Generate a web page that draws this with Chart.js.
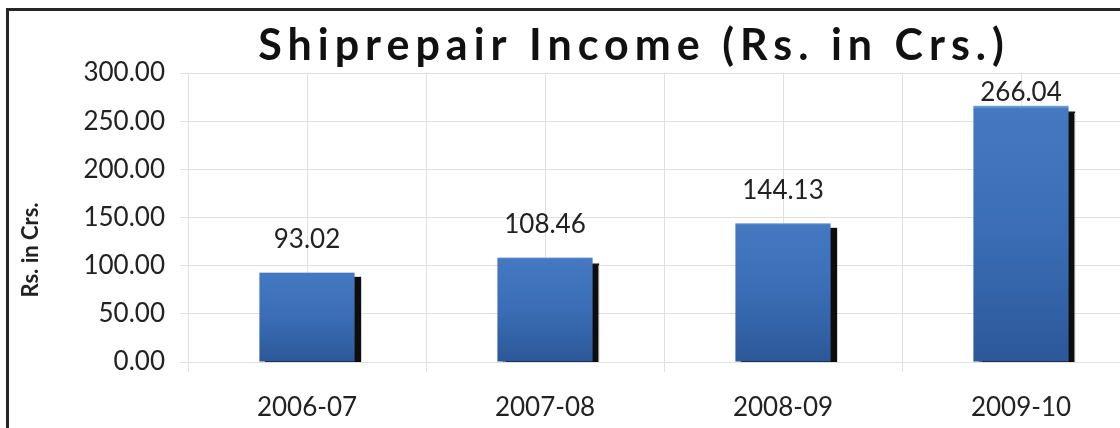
<!DOCTYPE html>
<html>
<head>
<meta charset="utf-8">
<script src="https://cdn.jsdelivr.net/npm/chart.js@4.4.0/dist/chart.umd.min.js"></script>
<style>
  html, body { margin: 0; padding: 0; background: #ffffff; overflow: hidden; width: 1120px; height: 428px; }
  #frame { position: absolute; left: 6px; top: 8px; width: 1200px; height: 480px; border: 3px solid #262626; box-sizing: border-box; }
  #c { position: absolute; left: 0; top: 0; }
</style>
</head>
<body>
<div id="frame"></div>
<canvas id="c" width="1270" height="440"></canvas>
<script>
// ---- data ----
const categories = ['2006-07', '2007-08', '2008-09', '2009-10'];
const incomeValues = [93.02, 108.46, 144.13, 266.04];
const yTicks = [0, 50, 100, 150, 200, 250, 300];
const chartTitle = 'Shiprepair Income (Rs. in Crs.)';
const yAxisTitle = 'Rs. in Crs.';

const FONT = 'Lato, "Noto Sans", sans-serif';
const TEXT = '#222222';
const GRID = '#e0e0e0';

function barGradient(ctx) {
  const chart = ctx.chart;
  const ys = chart.scales.y;
  if (!chart.chartArea || !ys || ctx.dataIndex === undefined) return '#3a6db5';
  const top = ys.getPixelForValue(incomeValues[ctx.dataIndex]);
  const bottom = ys.getPixelForValue(0);
  const g = chart.ctx.createLinearGradient(0, top, 0, bottom);
  g.addColorStop(0, '#7ea6dc');
  g.addColorStop(0.012, '#4479c2');
  g.addColorStop(0.5, '#3a6db5');
  g.addColorStop(1, '#2c5899');
  return g;
}

const shadowPlugin = {
  id: 'barShadow',
  beforeDatasetDraw(chart) {
    const c = chart.ctx;
    c.save();
    c.shadowColor = 'rgba(0,0,0,0.95)';
    c.shadowOffsetX = 6;
    c.shadowOffsetY = 5;
    c.shadowBlur = 1;
  },
  afterDatasetDraw(chart) {
    chart.ctx.restore();
  }
};

const valueLabels = {
  id: 'valueLabels',
  afterDatasetsDraw(chart) {
    const c = chart.ctx;
    const meta = chart.getDatasetMeta(0);
    const area = chart.chartArea;
    c.save();
    c.font = '26px ' + FONT;
    c.fillStyle = TEXT;
    c.textAlign = 'center';
    c.textBaseline = 'middle';
    meta.data.forEach((el, i) => {
      const y = Math.max(el.y - 33, area.top + 20);
      c.fillText(incomeValues[i].toFixed(2), el.x, y);
    });
    c.restore();
  }
};

const yTitlePlugin = {
  id: 'yTitle',
  afterDraw(chart) {
    const c = chart.ctx;
    const area = chart.chartArea;
    c.save();
    c.translate(area.left - 157, area.bottom - 112);
    c.rotate(-Math.PI / 2);
    c.font = 'bold 22px ' + FONT;
    c.fillStyle = TEXT;
    c.textAlign = 'center';
    c.textBaseline = 'middle';
    c.fillText(yAxisTitle, 0, 0);
    c.restore();
  }
};

const chart = new Chart(document.getElementById('c'), {
  type: 'bar',
  data: {
    labels: categories,
    datasets: [{
      data: incomeValues,
      backgroundColor: barGradient,
      borderWidth: 0,
      categoryPercentage: 1.0,
      barPercentage: 0.4,
      clip: 0
    }]
  },
  options: {
    responsive: false,
    animation: false,
    devicePixelRatio: 1,
    layout: { padding: { left: 0, right: 2, top: 0, bottom: 0 } },
    plugins: {
      legend: { display: false },
      tooltip: { enabled: false },
      title: {
        display: true,
        text: chartTitle,
        color: '#111111',
        font: { family: FONT, size: 43, weight: 'bold', lineHeight: 1.2 },
        padding: { top: 20, bottom: 1.4 }
      }
    },
    scales: {
      x: {
        type: 'category',
        position: 'bottom',
        offset: true,
        grid: { offset: true, color: GRID, lineWidth: 1, tickLength: 10, drawTicks: true },
        border: { display: true, color: GRID },
        ticks: { color: TEXT, font: { family: FONT, size: 26 }, padding: 20, maxRotation: 0 },
        afterFit(scale) { scale.height = 78; }
      },
      x2: {
        type: 'category',
        position: 'top',
        offset: true,
        grid: { offset: false, color: GRID, lineWidth: 1, drawTicks: false },
        border: { display: false },
        ticks: { display: false }
      },
      y: {
        type: 'linear',
        min: 0,
        max: 300,
        afterBuildTicks(scale) { scale.ticks = yTicks.map(v => ({ value: v })); },
        grid: { color: GRID, lineWidth: 1, tickLength: 8, drawTicks: true },
        border: { display: true, color: GRID },
        ticks: {
          color: TEXT,
          font: { family: FONT, size: 26 },
          padding: 15,
          callback: v => Number(v).toFixed(2)
        },
        afterFit(scale) { scale.width = 188; }
      },
      yPad: {
        type: 'linear',
        position: 'right',
        min: 0,
        max: 300,
        grid: { display: false, drawTicks: false },
        border: { display: false },
        ticks: { display: false },
        afterFit(scale) { scale.width = 128; }
      }
    }
  },
  plugins: [shadowPlugin, valueLabels, yTitlePlugin]
});

// wide letter spacing for the title, as in the reference
const tb = chart.titleBlock;
if (tb) {
  const origDraw = tb.draw.bind(tb);
  tb.draw = function (area) {
    const c = chart.ctx;
    c.save();
    try { c.letterSpacing = '6px'; } catch (e) {}
    origDraw(area);
    c.restore();
  };
  chart.draw();
}
</script>
</body>
</html>
